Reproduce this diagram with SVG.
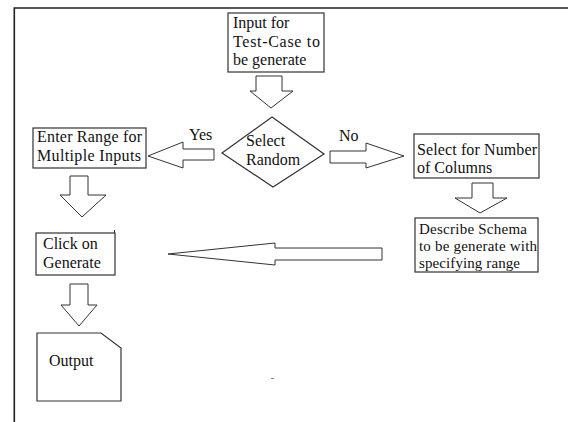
<svg xmlns="http://www.w3.org/2000/svg" width="568" height="422" viewBox="0 0 568 422">
<style>
.box{fill:#fff;stroke:#333;stroke-width:1.2}
.arr{fill:#fff;stroke:#333;stroke-width:1}
.t{font-family:"Liberation Serif","Times New Roman",serif;font-size:16px;fill:#111}
.s{font-size:15px}
.frame{stroke:#222;stroke-width:1.6;fill:none}
</style>
<rect width="568" height="422" fill="#fff"/>
<path class="frame" d="M14.3,422 V8 H568"/>
<g id="connectors">
<polygon class="arr" points="256,76 282,76 282,91 293,91 271,108 250,91 256,91"/>
<polygon class="arr" points="214,149 214,160 183,160 183,168 148,156 183,142 183,149"/>
<polygon class="arr" points="330,151 366,151 366,143 404,156 366,168 366,163 330,163"/>
<polygon class="arr" points="70,176 88,176 88,195 106,195 82,217 60,195 70,195"/>
<polygon class="arr" points="472,183 493,183 493,198 507,198 480,213 455,198 472,198"/>
<polygon class="arr" points="382,248 382,260 275,260 275,265 168,254 275,243 275,248"/>
<polygon class="arr" points="70,284 88,284 88,305 97,305 79,326 61,305 70,305"/>
</g>
<g id="n_input">
<rect class="box" x="228" y="13" width="96" height="59"/>
<text class="t" x="233" y="28">Input for</text>
<text class="t" x="233" y="47" textLength="87" lengthAdjust="spacing">Test-Case to</text>
<text class="t" x="233" y="65">be generate</text>
</g>
<g id="n_select_random">
<polygon class="box" points="272,117 324,154 273,187 222,153"/>
<text class="t" x="246" y="146">Select</text>
<text class="t" x="246" y="165">Random</text>
</g>
<g id="lbl_yes"><text class="t" x="189" y="140">Yes</text></g>
<g id="lbl_no"><text class="t" x="339" y="141">No</text></g>
<g id="n_enter_range">
<rect class="box" x="33" y="128" width="113" height="40"/>
<text class="t" x="37" y="142" textLength="105" lengthAdjust="spacing">Enter Range for</text>
<text class="t" x="37" y="161" textLength="104" lengthAdjust="spacing">Multiple Inputs</text>
</g>
<g id="n_select_cols">
<rect class="box" x="414" y="134" width="125" height="44"/>
<text class="t" x="417" y="155" textLength="120" lengthAdjust="spacing">Select for Number</text>
<text class="t" x="417" y="173">of Columns</text>
</g>
<g id="n_describe">
<rect class="box" x="415" y="218" width="123" height="54"/>
<text class="t s" x="419" y="234" textLength="108" lengthAdjust="spacing">Describe Schema</text>
<text class="t s" x="419" y="251" textLength="118" lengthAdjust="spacing">to be generate with</text>
<text class="t s" x="419" y="268" textLength="101" lengthAdjust="spacing">specifying range</text>
</g>
<g id="n_click">
<rect class="box" x="36" y="233" width="79" height="42"/>
<line x1="114.5" y1="230" x2="114.5" y2="233" stroke="#333" stroke-width="1"/>
<text class="t" x="43" y="249">Click on</text>
<text class="t" x="43" y="268">Generate</text>
</g>
<g id="n_output">
<polygon class="box" points="37,333 101,333 121,348 121,401 37,401"/>
<text class="t" x="49" y="366">Output</text>
</g>
<line x1="271" y1="378.5" x2="274" y2="378.5" stroke="#888" stroke-width="1"/>
</svg>
